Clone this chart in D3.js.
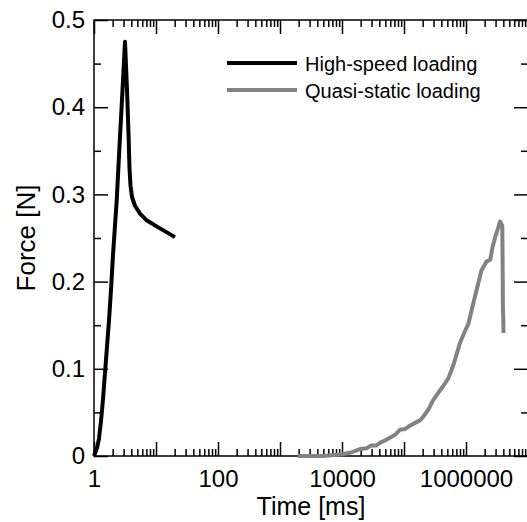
<!DOCTYPE html>
<html>
<head>
<meta charset="utf-8">
<script src="https://cdn.jsdelivr.net/npm/d3@7"></script>
<style>
    body { margin: 0; background: #fff; }
    svg { display: block; font-family: "Liberation Sans", Arial, sans-serif; }
</style>
</head>
<body>
<div id="chart"></div>
<script>
// High-speed loading (time in ms, force in N)
const hsTime = [1, 1.038, 1.118, 1.204, 1.297, 1.396, 1.504, 1.619, 1.744, 1.878, 2.023, 2.323, 2.578, 2.861, 3.162,
    3.406, 3.602, 3.738, 3.879, 4.102, 4.585, 5.521, 7.158, 10.38, 20.25];
const hsForce = [0, 0.003, 0.009, 0.020, 0.040, 0.065, 0.095, 0.125, 0.155, 0.190, 0.230, 0.293, 0.355, 0.415, 0.475,
    0.420, 0.370, 0.330, 0.310, 0.297, 0.287, 0.278, 0.270, 0.263, 0.251];

// Quasi-static loading
const qsTime = [1950, 5012, 10000, 14125, 19498, 25119, 29512, 35481, 40738, 50119, 56234, 70795, 86099,
    104713, 125893, 151356, 181970, 204174, 251189, 295121, 354813, 426580, 518800, 630957, 794328,
    933254, 1096478, 1258925, 1479108, 1778279, 1995262, 2137962, 2454709, 2691535, 2951209, 3311311,
    3548134, 3845918, 3890451, 3935501, 3981072, 4027170];
const qsForce = [0, 0, 0.002, 0.004, 0.008, 0.009, 0.012, 0.012, 0.015, 0.018, 0.020, 0.024, 0.030,
    0.031, 0.035, 0.038, 0.041, 0.045, 0.054, 0.064, 0.072, 0.080, 0.089, 0.105, 0.129,
    0.141, 0.152, 0.170, 0.190, 0.213, 0.219, 0.223, 0.225, 0.240, 0.251, 0.262,
    0.269, 0.264, 0.230, 0.171, 0.160, 0.141];

const seriesNames = ["High-speed loading", "Quasi-static loading"];
const seriesColors = ["#000000", "#828282"];

const xDecades = [1, 10, 100, 1000, 10000, 100000, 1000000, 10000000];
const xLabeled = [1, 100, 10000, 1000000];
const yMajor = [0, 0.1, 0.2, 0.3, 0.4, 0.5];
const yMinor = [0.05, 0.15, 0.25, 0.35, 0.45];

const W = 527, H = 522;
const margin = { top: 20, right: -1, bottom: 66, left: 94 };
const width = W - margin.left - margin.right;
const height = H - margin.top - margin.bottom;

const svg = d3.select("#chart").append("svg")
    .attr("width", W)
    .attr("height", H);

const g = svg.append("g")
    .attr("transform", `translate(${margin.left},${margin.top})`);

const x = d3.scaleLog().domain([1, 1e7]).range([0, width]);
const y = d3.scaleLinear().domain([0, 0.5]).range([height, 0]);

// minor ticks for log axis: 2..9 of each decade
const xMinor = [];
xDecades.slice(0, -1).forEach(d => {
    for (let k = 2; k <= 9; k++) xMinor.push(d * k);
});

const MAJOR = 14, MINOR = 7;
const noLabel = () => "";

function styleAxis(sel) {
    sel.select(".domain").remove();
    sel.selectAll(".tick line").attr("stroke", "#000").attr("stroke-width", 1.5);
    sel.selectAll(".tick text").attr("fill", "#000").style("font-size", "24px");
}

// bottom (labelled) + top, ticks inward
g.append("g")
    .attr("transform", `translate(0,${height})`)
    .call(d3.axisBottom(x).tickValues(xDecades).tickSize(-MAJOR).tickPadding(14)
        .tickFormat(d => xLabeled.includes(d) ? d3.format("d")(d) : ""))
    .call(styleAxis);
g.append("g")
    .attr("transform", `translate(0,${height})`)
    .call(d3.axisBottom(x).tickValues(xMinor).tickSize(-MINOR).tickFormat(noLabel))
    .call(styleAxis);
g.append("g")
    .call(d3.axisTop(x).tickValues(xDecades).tickSize(-MAJOR).tickFormat(noLabel))
    .call(styleAxis);
g.append("g")
    .call(d3.axisTop(x).tickValues(xMinor).tickSize(-MINOR).tickFormat(noLabel))
    .call(styleAxis);

// left (labelled) + right
g.append("g")
    .call(d3.axisLeft(y).tickValues(yMajor).tickSize(-MAJOR).tickPadding(9)
        .tickFormat(d => d === 0 ? "0" : d3.format(".1f")(d)))
    .call(styleAxis);
g.append("g")
    .call(d3.axisLeft(y).tickValues(yMinor).tickSize(-MINOR).tickFormat(noLabel))
    .call(styleAxis);
g.append("g")
    .attr("transform", `translate(${width},0)`)
    .call(d3.axisRight(y).tickValues(yMajor).tickSize(-MAJOR).tickFormat(noLabel))
    .call(styleAxis);
g.append("g")
    .attr("transform", `translate(${width},0)`)
    .call(d3.axisRight(y).tickValues(yMinor).tickSize(-MINOR).tickFormat(noLabel))
    .call(styleAxis);

// frame
g.append("rect")
    .attr("x", 0).attr("y", 0)
    .attr("width", width).attr("height", height)
    .attr("fill", "none")
    .attr("stroke", "#000")
    .attr("stroke-width", 1.5);

// lines
const line = d3.line()
    .x(d => x(d[0]))
    .y(d => y(d[1]));

g.append("path")
    .datum(qsTime.map((t, i) => [t, qsForce[i]]))
    .attr("d", line)
    .attr("fill", "none")
    .attr("stroke", seriesColors[1])
    .attr("stroke-width", 4)
    .attr("stroke-linejoin", "round");

g.append("path")
    .datum(hsTime.map((t, i) => [t, hsForce[i]]))
    .attr("d", line)
    .attr("fill", "none")
    .attr("stroke", seriesColors[0])
    .attr("stroke-width", 4)
    .attr("stroke-linejoin", "round");

// legend
const legend = svg.append("g").attr("transform", "translate(227,63)");
seriesNames.forEach((name, i) => {
    const row = legend.append("g").attr("transform", `translate(0,${i * 27})`);
    row.append("line")
        .attr("x1", 0).attr("x2", 70)
        .attr("stroke", seriesColors[i])
        .attr("stroke-width", 4);
    row.append("text")
        .attr("x", 78)
        .attr("y", 7.5)
        .style("font-size", "20px")
        .text(name);
});

// axis titles
svg.append("text")
    .attr("x", margin.left + width / 2)
    .attr("y", 515)
    .attr("text-anchor", "middle")
    .style("font-size", "25px")
    .text("Time [ms]");

svg.append("text")
    .attr("transform", `translate(35,${margin.top + height / 2}) rotate(-90)`)
    .attr("text-anchor", "middle")
    .style("font-size", "26px")
    .text("Force [N]");
</script>
</body>
</html>
